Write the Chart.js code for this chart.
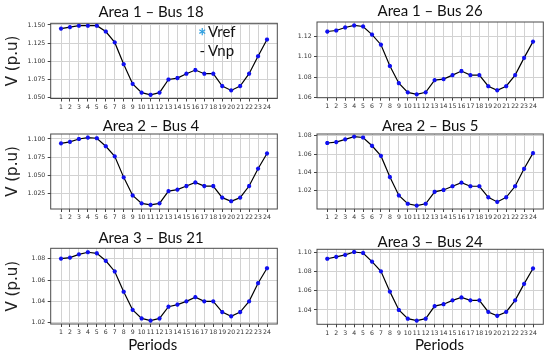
<!DOCTYPE html>
<html>
<head>
<meta charset="utf-8">
<script src="https://cdn.jsdelivr.net/npm/chart.js@4.4.0/dist/chart.umd.min.js"></script>
<style>
  html, body { margin: 0; padding: 0; background: #fff; overflow: hidden; }
  body { width: 550px; height: 356px; position: relative; }
  canvas { position: absolute; }
  .lbl { position: absolute; white-space: nowrap; color: #111; font-family: Lato, sans-serif; font-size: 15px; line-height: 1; }
</style>
</head>
<body>
<canvas id="c1"></canvas>
<canvas id="c2"></canvas>
<canvas id="c3"></canvas>
<canvas id="c4"></canvas>
<canvas id="c5"></canvas>
<canvas id="c6"></canvas>

<!-- legend of the first panel -->
<div class="lbl" style="left:198px; top:25.5px; color:#2f9fe0; font-size:20px; font-weight:bold;">*</div>
<div class="lbl" style="left:208px; top:24px;">Vref</div>
<div class="lbl" style="left:199.5px; top:42.7px;">-</div>
<div class="lbl" style="left:208px; top:42.7px;">Vnp</div>

<!-- x axis labels of the bottom row -->
<div class="lbl" style="left:152.7px; top:336.7px; transform:translateX(-50%);">Periods</div>
<div class="lbl" style="left:439.5px; top:336.7px; transform:translateX(-50%);">Periods</div>

<script>
// periods on the x axis
const periods = [1, 2, 3, 4, 5, 6, 7, 8, 9, 10, 11, 12, 13, 14, 15, 16, 17, 18, 19, 20, 21, 22, 23, 24];

// voltage profiles (p.u)
const bus18 = [1.145, 1.147, 1.149, 1.149, 1.149, 1.141, 1.126, 1.096, 1.069, 1.057, 1.054, 1.057,
               1.075, 1.077, 1.083, 1.088, 1.083, 1.083, 1.066, 1.060, 1.066, 1.083, 1.107, 1.130];
const bus26 = [1.125, 1.126, 1.129, 1.131, 1.130, 1.122, 1.112, 1.091, 1.074, 1.065, 1.063, 1.065,
               1.077, 1.078, 1.082, 1.086, 1.082, 1.082, 1.071, 1.067, 1.071, 1.082, 1.099, 1.115];
const bus4  = [1.094, 1.096, 1.100, 1.102, 1.101, 1.090, 1.076, 1.047, 1.022, 1.011, 1.009, 1.011,
               1.028, 1.030, 1.035, 1.040, 1.035, 1.035, 1.019, 1.014, 1.019, 1.035, 1.059, 1.080];
const bus5  = [1.072, 1.073, 1.076, 1.079, 1.078, 1.069, 1.058, 1.035, 1.015, 1.006, 1.004, 1.006,
               1.019, 1.021, 1.025, 1.029, 1.025, 1.025, 1.013, 1.008, 1.013, 1.025, 1.044, 1.061];
const bus21 = [1.080, 1.081, 1.084, 1.086, 1.085, 1.078, 1.068, 1.049, 1.032, 1.024, 1.022, 1.024,
               1.035, 1.037, 1.040, 1.044, 1.040, 1.040, 1.030, 1.026, 1.030, 1.040, 1.057, 1.071];
const bus24 = [1.093, 1.095, 1.097, 1.100, 1.099, 1.090, 1.080, 1.059, 1.040, 1.031, 1.029, 1.031,
               1.044, 1.046, 1.050, 1.053, 1.050, 1.050, 1.038, 1.034, 1.038, 1.050, 1.067, 1.083];

// y tick labels for each panel
const ticks18 = [1.050, 1.075, 1.100, 1.125, 1.150];
const ticks26 = [1.06, 1.08, 1.10, 1.12];
const ticks4  = [1.025, 1.050, 1.075, 1.100];
const ticks5  = [1.02, 1.04, 1.06, 1.08];
const ticks21 = [1.02, 1.04, 1.06, 1.08];
const ticks24 = [1.04, 1.06, 1.08, 1.10];

const panels = [
  { id: 'c1', title: 'Area 1 – Bus 18', values: bus18, yTicks: ticks18, dec: 3, yMin: 1.0489, yMax: 1.1523,
    box: [0, 0, 302, 113], padL: 24.7, padR: 24.7, yW: 26, xH: 14.5, tPad: [4.5, 3.8], full: true, yLabel: true },
  { id: 'c2', title: 'Area 1 – Bus 26', values: bus26, yTicks: ticks26, dec: 2, yMin: 1.0597, yMax: 1.1344,
    box: [290, 0, 260, 113], padL: 0, padR: 6.7, yW: 27, xH: 15.3, tPad: [3.7, 3.3], full: false, yLabel: false },
  { id: 'c3', title: 'Area 2 – Bus 4', values: bus4, yTicks: ticks4, dec: 3, yMin: 1.0033, yMax: 1.1069,
    box: [0, 113, 302, 113], padL: 24.7, padR: 24.7, yW: 26, xH: 17, tPad: [5.3, 0.7], full: true, yLabel: true },
  { id: 'c4', title: 'Area 2 – Bus 5', values: bus5, yTicks: ticks5, dec: 2, yMin: 1.0003, yMax: 1.0818,
    box: [290, 113, 260, 113], padL: 0, padR: 6.7, yW: 27, xH: 17, tPad: [5.3, 0.7], full: false, yLabel: false },
  { id: 'c5', title: 'Area 3 – Bus 21', values: bus21, yTicks: ticks21, dec: 2, yMin: 1.0188, yMax: 1.0897,
    box: [0, 226, 302, 115], padL: 24.7, padR: 24.7, yW: 26, xH: 17, tPad: [4.2, 3.1], full: true, yLabel: true },
  { id: 'c6', title: 'Area 3 – Bus 24', values: bus24, yTicks: ticks24, dec: 2, yMin: 1.0252, yMax: 1.1028,
    box: [290, 226, 260, 115], padL: 0, padR: 6.7, yW: 27, xH: 16.7, tPad: [8.2, 0.1], full: false, yLabel: false },
];

// matplotlib style box round the plot area
const framePlugin = {
  id: 'frame',
  afterDraw(chart) {
    const { ctx, chartArea: a } = chart;
    ctx.save();
    ctx.strokeStyle = '#4a4a4a';
    ctx.lineWidth = 1;
    ctx.strokeRect(a.left, a.top, a.right - a.left, a.bottom - a.top);
    ctx.restore();
  }
};

const tickFont = { family: 'DejaVu Sans', size: 6.2 };

panels.forEach((p) => {
  const canvas = document.getElementById(p.id);
  canvas.width = p.box[2];
  canvas.height = p.box[3];
  canvas.style.left = p.box[0] + 'px';
  canvas.style.top = p.box[1] + 'px';

  const points = p.values.map((v, i) => ({ x: periods[i], y: v }));

  new Chart(canvas, {
    type: 'line',
    data: {
      datasets: [
        {
          label: 'Vref',
          data: points,
          showLine: false,
          pointStyle: 'star',
          pointRadius: 2.1,
          pointBorderWidth: 1.3,
          borderColor: '#1010f0',
          backgroundColor: '#1010f0',
        },
        {
          label: 'Vnp',
          data: points,
          borderColor: '#000',
          borderWidth: 1.2,
          pointRadius: 0,
          tension: 0,
        },
      ],
    },
    options: {
      responsive: false,
      animation: false,
      events: [],
      layout: { padding: { left: p.padL, right: p.padR, top: 0, bottom: 0 } },
      plugins: {
        legend: { display: false },
        tooltip: { enabled: false },
        title: {
          display: true,
          text: p.title,
          fullSize: p.full,
          color: '#111',
          font: { family: 'Lato', size: 15, weight: 'normal', lineHeight: 1 },
          padding: { top: p.tPad[0], bottom: p.tPad[1] },
        },
      },
      scales: {
        x: {
          type: 'linear',
          min: periods[0] - 1.15,
          max: periods[periods.length - 1] + 1.15,
          afterBuildTicks: (scale) => { scale.ticks = periods.map((v) => ({ value: v })); },
          afterFit: (scale) => { scale.height = p.xH; },
          border: { display: false },
          grid: { color: '#d2d2d2', lineWidth: 1, tickColor: '#444', tickLength: 3 },
          ticks: { font: tickFont, color: '#333', padding: 2, maxRotation: 0, autoSkip: false,
                   callback: (v) => String(v) },
        },
        y: {
          min: p.yMin,
          max: p.yMax,
          afterBuildTicks: (scale) => { scale.ticks = p.yTicks.map((v) => ({ value: v })); },
          afterFit: (scale) => { scale.width = p.yW; },
          border: { display: false },
          grid: { color: '#d2d2d2', lineWidth: 1, tickColor: '#444', tickLength: 3 },
          ticks: { font: tickFont, color: '#333', padding: 2.4,
                   callback: (v) => Number(v).toFixed(p.dec) },
          title: {
            display: p.yLabel,
            text: 'V (p.u)',
            color: '#222',
            font: { family: 'DejaVu Sans', size: 15, lineHeight: 1.2 },
            padding: { top: 12.8 - 24.7 - 9, bottom: 0 },
          },
        },
      },
    },
    plugins: [framePlugin],
  });
});
</script>
</body>
</html>
